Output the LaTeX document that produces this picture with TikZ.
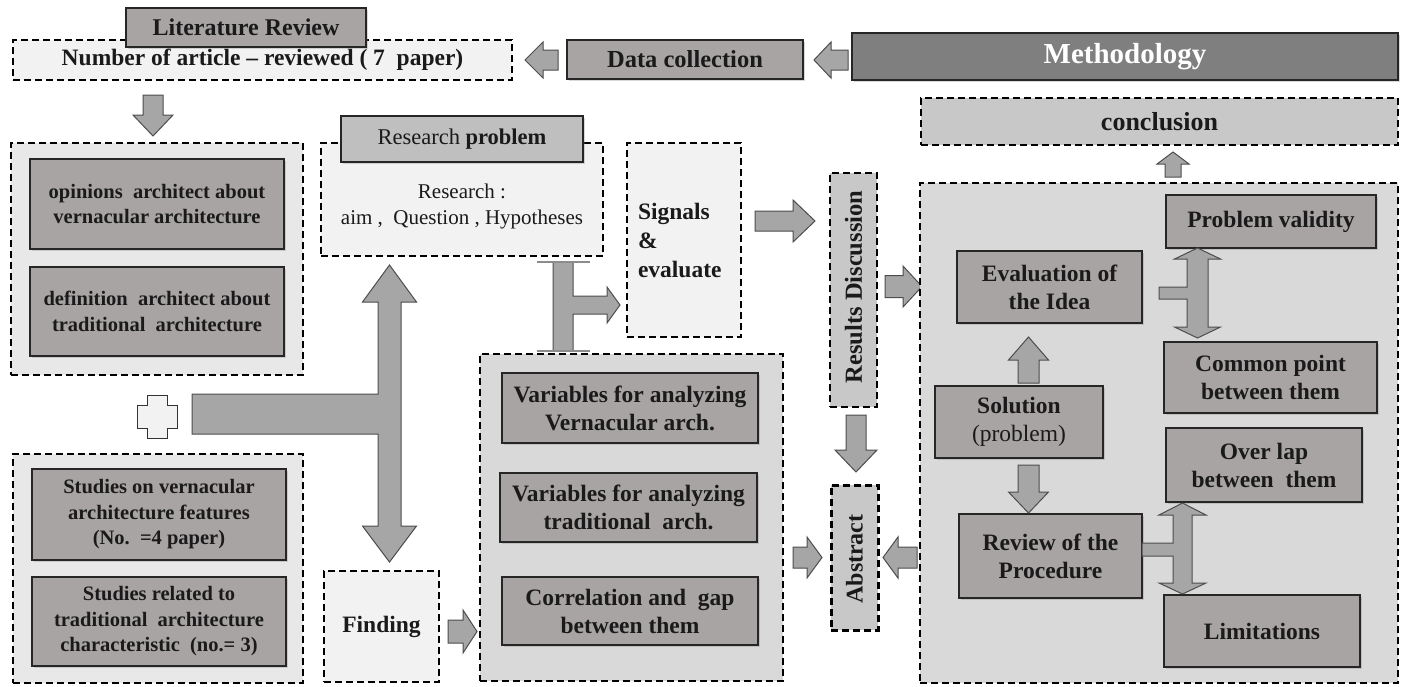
\documentclass[tikz,border=0pt]{standalone}
\usepackage{fontspec}
\setmainfont{Liberation Serif}
\usetikzlibrary{shadows}
\definecolor{boxg}{HTML}{A9A4A4}
\definecolor{boxl}{HTML}{BFBFBF}
\definecolor{arrg}{HTML}{A6A6A6}
\definecolor{arrd}{HTML}{4D4D4D}
\definecolor{reglight}{HTML}{F2F2F2}
\definecolor{regmid}{HTML}{E8E8E8}
\definecolor{regdark}{HTML}{D9D9D9}
\definecolor{regres}{HTML}{C8C8C8}
\definecolor{methg}{HTML}{7F7F7F}
\definecolor{txt}{HTML}{1A1A1A}
\newcommand\hblock[6]{\draw[barrow] (#1,{#4-#5}) -- (#2,{#4-#5}) -- (#2,{#4-#6}) -- (#3,#4) -- (#2,{#4+#6}) -- (#2,{#4+#5}) -- (#1,{#4+#5}) -- cycle;}
\newcommand\vblock[6]{\draw[barrow] ({#4-#5},#1) -- ({#4-#5},#2) -- ({#4-#6},#2) -- (#4,#3) -- ({#4+#6},#2) -- ({#4+#5},#2) -- ({#4+#5},#1) -- cycle;}
\begin{document}
\begin{tikzpicture}[x=1pt,y=-1pt,
  every node/.style={inner sep=0pt, outer sep=0pt, text=txt, align=center,
    font=\fontsize{23.5}{28}\selectfont\bfseries},
  dbox/.style={draw=black, line width=2.4pt, dash pattern=on 7pt off 4pt},
  sbox/.style={draw=black!85, line width=1.2pt, fill=boxg,
    drop shadow={shadow xshift=2pt, shadow yshift=-2pt, opacity=0.3}},
  lbox/.style={sbox, font=\fontsize{20.5}{25.5}\selectfont\bfseries},
  rbox/.style={sbox, font=\fontsize{23.5}{28}\selectfont\bfseries},
  barrow/.style={draw=arrd, line width=1pt, fill=arrg, line join=miter},
]
\useasboundingbox[fill=white] (0,0) rectangle (1401,686);

% ---------- top row ----------
\node[dbox, fill=reglight, minimum width=499, minimum height=40] (numbox) at (262.5,60)
  {Number of article -- reviewed ( 7\ \ paper)};
\node[sbox, minimum width=240, minimum height=39, font=\fontsize{24}{26}\selectfont\bfseries] (litrev) at (246,27.5) {Literature Review};
\node[sbox, minimum width=236, minimum height=39, font=\fontsize{24.5}{26}\selectfont\bfseries] (datacol) at (685,59.5) {Data collection};
\node[sbox, fill=methg, minimum width=546, minimum height=47, text=white,
  font=\fontsize{29}{30}\selectfont\bfseries] (method) at (1125,56.5) {Methodology};
\hblock{558}{543}{525}{60}{10}{18}
\hblock{848}{831}{814}{60}{10}{18}
\vblock{95}{115}{136}{153}{10}{20}

% ---------- left column ----------
\node[dbox, fill=regmid, minimum width=292, minimum height=232] (left1) at (157,259) {};
\node[lbox, minimum width=254, minimum height=90] (opin) at (157,204)
  {opinions\ \ architect about\\vernacular architecture};
\node[lbox, minimum width=254, minimum height=89] (defin) at (157,311.5)
  {definition\ \ architect about\\traditional\ \ architecture};

\draw[draw=black!80, line width=1pt, fill=reglight] (147,395) -- (167,395) -- (167,405) -- (177,405)
  -- (177,428) -- (167,428) -- (167,438) -- (147,438) -- (147,428) -- (137,428) -- (137,405)
  -- (147,405) -- cycle;

\node[dbox, fill=regmid, minimum width=290, minimum height=229] (left2) at (158,568.5) {};
\node[lbox, minimum width=254, minimum height=91] (stud1) at (159,514.5)
  {Studies on vernacular\\architecture features\\(No.\ \ =4 paper)};
\node[lbox, minimum width=254, minimum height=89] (stud2) at (159,621.5)
  {Studies related to\\traditional\ \ architecture\\characteristic\ \ (no.= 3)};

% ---------- research problem ----------
\node[dbox, fill=reglight, minimum width=282, minimum height=113,
  font=\fontsize{21}{26}\selectfont] (resbox) at (462,199.5)
  {\\[2pt]Research :\\aim ,\ \ Question , Hypotheses};
\node[sbox, fill=boxl, minimum width=242, minimum height=46,
  font=\fontsize{22.5}{26}\selectfont] (resprob) at (462,139) {Research \textbf{problem}};

% big double arrow with bar
\draw[barrow] (389.5,265) -- (416.5,302) -- (401,302) -- (401,526) -- (416.5,526) -- (389.5,562)
  -- (362.5,526) -- (378,526) -- (378,434) -- (192,434) -- (192,394) -- (378,394) -- (378,302)
  -- (362.5,302) -- cycle;

% T connector to signals
\draw[barrow] (553,262) -- (573,262) -- (573,296) -- (607,296) -- (607,287) -- (620,305)
  -- (607,323) -- (607,314) -- (573,314) -- (573,351) -- (553,351) -- cycle;
\draw[black!45, line width=1.5pt] (537,262) -- (590,262);
\draw[black!45, line width=1.5pt] (537,351) -- (590,351);

\node[dbox, fill=reglight, minimum width=114, minimum height=194] (signals) at (684,240) {};
\node[anchor=west, align=left, font=\fontsize{23.5}{29}\selectfont\bfseries] (sigtxt) at (638,240)
  {Signals\\\&\\evaluate};

% ---------- finding & variables ----------
\node[dbox, fill=reglight, minimum width=115, minimum height=111] (finding) at (381.5,626.5) {Finding};
\hblock{448}{463}{477}{631.5}{11.5}{21.5}

\node[dbox, fill=regdark, minimum width=303, minimum height=327] (midreg) at (631.5,517.5) {};
\node[rbox, minimum width=256, minimum height=70] (var1) at (630,408)
  {Variables for analyzing\\Vernacular arch.};
\node[rbox, minimum width=257, minimum height=69] (var2) at (628.5,507.5)
  {Variables for analyzing\\traditional\ \ arch.};
\node[rbox, minimum width=256, minimum height=68] (corr) at (630,611)
  {Correlation and\ \ gap\\between them};

% ---------- results & abstract ----------
\hblock{755}{793}{815}{221}{10}{21}
\node[dbox, fill=regres, minimum width=47, minimum height=234] (results) at (853.5,290) {};
\node[rotate=90, font=\fontsize{24.5}{26}\selectfont\bfseries] (restxt) at (853.5,287) {Results Discussion};
\hblock{885}{903}{922}{286.5}{11}{20.5}
\vblock{415}{450}{472}{856}{10}{21}
\node[dbox, line width=3pt, fill=regres, minimum width=47, minimum height=145] (abstract) at (854.5,557.5) {};
\node[rotate=90, font=\fontsize{24}{26}\selectfont\bfseries] (abstxt) at (854.5,559) {Abstract};
\hblock{793}{807}{822}{557.5}{10.5}{20.5}
\hblock{917}{898}{883}{557.5}{10.5}{20.5}

% ---------- right region ----------
\node[dbox, fill=regres, minimum width=477, minimum height=47,
  font=\fontsize{26}{28}\selectfont\bfseries] (concl) at (1159.5,121.5) {conclusion};
\vblock{177}{164}{152}{1173}{8}{16}
\node[dbox, fill=regdark, minimum width=478, minimum height=500] (rightreg) at (1159,433) {};

\node[rbox, minimum width=210, minimum height=53] (probval) at (1271,221.5) {Problem validity};
\node[rbox, minimum width=185, minimum height=72] (evalidea) at (1049.5,287) {Evaluation of\\the Idea};
\node[rbox, minimum width=213, minimum height=71] (common) at (1270.5,377.5) {Common point\\between them};
\node[rbox, minimum width=168, minimum height=72] (solution) at (1019,422) {Solution\\{\mdseries (problem)}};
\node[rbox, minimum width=196, minimum height=74] (overlap) at (1264,465) {Over lap\\between\ \ them};
\node[rbox, minimum width=183, minimum height=84] (review) at (1050.5,556) {Review of the\\Procedure};
\node[rbox, minimum width=196, minimum height=72] (limit) at (1262,631) {Limitations};

\vblock{383}{360}{337}{1028.5}{10.5}{20}
\vblock{465}{492}{513}{1028.5}{10.5}{20}

\draw[barrow] (1197.5,248) -- (1220.5,259) -- (1208,259) -- (1208,327) -- (1220.5,327) -- (1197.5,338)
  -- (1174.5,327) -- (1187,327) -- (1187,299) -- (1159,299) -- (1159,287) -- (1187,287) -- (1187,259)
  -- (1174.5,259) -- cycle;
\draw[barrow] (1182.5,503) -- (1206,515) -- (1192,515) -- (1192,583) -- (1206,583) -- (1182.5,594)
  -- (1159,583) -- (1173,583) -- (1173,556) -- (1142,556) -- (1142,543) -- (1173,543) -- (1173,515)
  -- (1159,515) -- cycle;
\end{tikzpicture}
\end{document}
